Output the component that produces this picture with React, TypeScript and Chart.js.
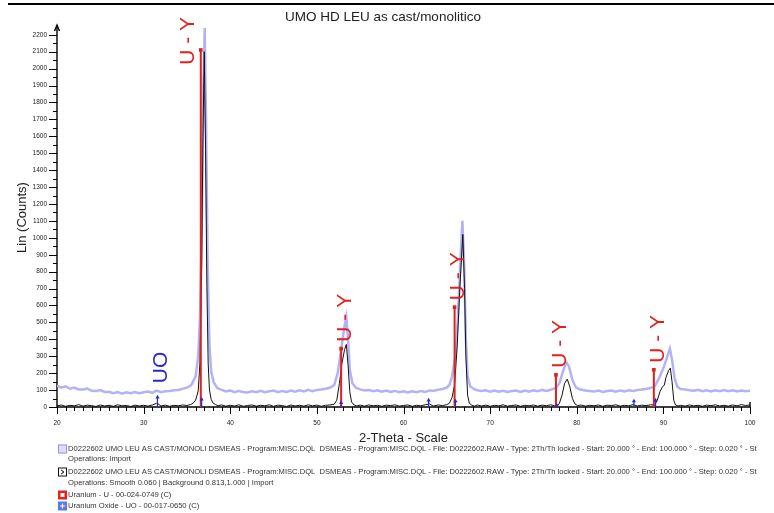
import React, { useEffect, useRef } from "react";
import { Chart, registerables } from "chart.js";

Chart.register(...registerables);

// ---------- DATA ----------
const chartTitle = "UMO HD LEU as cast/monolitico";
const xAxisTitle = "2-Theta - Scale";
const yAxisTitle = "Lin (Counts)";

const xTickLabels = [20, 30, 40, 50, 60, 70, 80, 90, 100];
const yTickLabels = [0, 100, 200, 300, 400, 500, 600, 700, 800, 900, 1000, 1100, 1200, 1300, 1400, 1500, 1600, 1700, 1800, 1900, 2000, 2100, 2200];
const xMinorStep = 1;
const yMinorStep = 50;
const xMin = 20;
const xMax = 100;
const yMin = 0;
const yMax = 2240;

// raw scan (light blue)
const rawTheta = [
  20.0, 20.5, 21.0, 21.5, 22.0, 22.5, 23.0, 23.5, 24.0, 24.5, 25.0, 25.5, 26.0, 26.5, 27.0, 27.5, 28.0, 28.5, 29.0, 29.5,
  30.0, 30.5, 31.0, 31.5, 32.0, 32.5, 33.0, 33.5, 34.0, 34.5, 35.0, 35.5, 36.0, 36.3, 36.5, 36.7, 36.9, 37.05, 37.2, 37.4,
  37.6, 37.8, 38.1, 38.5, 39.0, 39.5, 40.0, 40.5, 41.0, 41.5, 42.0, 42.5, 43.0, 43.5, 44.0, 44.5, 45.0, 45.5, 46.0, 46.5,
  47.0, 47.5, 48.0, 48.5, 49.0, 49.5, 50.0, 50.5, 51.0, 51.5, 52.0, 52.4, 52.8, 53.2, 53.4, 53.6, 53.8, 54.1, 54.5, 55.0,
  55.5, 56.0, 56.5, 57.0, 57.5, 58.0, 58.5, 59.0, 59.5, 60.0, 60.5, 61.0, 61.5, 62.0, 62.5, 63.0, 63.5, 64.0, 64.5, 65.0,
  65.3, 65.6, 66.0, 66.3, 66.6, 66.8, 67.0, 67.2, 67.4, 67.7, 68.2, 68.5, 69.0, 69.5, 70.0, 70.5, 71.0, 71.5, 72.0, 72.5,
  73.0, 73.5, 74.0, 74.5, 75.0, 75.5, 76.0, 76.5, 77.0, 77.6, 78.0, 78.4, 78.8, 79.1, 79.5, 79.9, 80.4, 81.0, 81.5, 82.0,
  82.5, 83.0, 83.5, 84.0, 84.5, 85.0, 85.5, 86.0, 86.5, 87.0, 87.5, 88.0, 88.5, 89.0, 89.5, 90.0, 90.4, 90.75, 91.0, 91.3,
  91.6, 92.0, 92.5, 93.0, 93.5, 94.0, 94.5, 95.0, 95.5, 96.0, 96.5, 97.0, 97.5, 98.0, 98.5, 99.0, 99.5, 100.0,
];
const rawCounts = [
  126, 114, 122, 108, 115, 104, 103, 109, 96, 94, 100, 89, 90, 82, 89, 79, 87, 81, 89, 81,
  87, 92, 84, 97, 87, 93, 94, 99, 100, 107, 114, 130, 180, 300, 520, 1000, 1900, 2240, 1700, 820,
  360, 210, 145, 112, 101, 92, 98, 87, 95, 89, 86, 93, 88, 96, 87, 93, 97, 87, 95, 89,
  97, 91, 99, 92, 101, 94, 101, 104, 108, 114, 130, 200, 340, 480, 530, 400, 220, 140, 114, 104,
  97, 101, 93, 99, 91, 97, 89, 95, 87, 93, 86, 93, 87, 95, 89, 98, 96, 102, 106, 115,
  130, 180, 300, 550, 900, 1100, 850, 400, 180, 122, 104, 99, 94, 99, 91, 97, 90, 96, 89, 95,
  97, 89, 97, 91, 99, 93, 101, 95, 102, 112, 140, 210, 265, 240, 160, 116, 103, 97, 94, 91,
  97, 89, 95, 97, 91, 98, 92, 99, 94, 100, 104, 106, 112, 122, 170, 230, 290, 345, 280, 170,
  120, 106, 104, 99, 96, 101, 93, 99, 92, 99, 93, 100, 93, 99, 92, 98, 93, 96,
];

// smoothed, background-subtracted scan (black)
const smoothTheta = [
  20.0, 20.5, 21.0, 21.5, 22.0, 22.5, 23.0, 23.5, 24.0, 24.5, 25.0, 25.5, 26.0, 26.5, 27.0, 27.5, 28.0, 28.5, 29.0, 29.5,
  30.0, 30.5, 31.0, 31.5, 31.8, 32.0, 32.5, 33.0, 33.5, 34.0, 34.5, 35.0, 35.4, 35.7, 36.0, 36.3, 36.5, 36.7, 36.85, 37.0,
  37.15, 37.3, 37.45, 37.6, 37.8, 38.0, 38.3, 38.6, 39.0, 39.5, 40.0, 40.5, 41.0, 41.5, 42.0, 42.5, 43.0, 43.5, 44.0, 44.5,
  45.0, 45.5, 46.0, 46.5, 47.0, 47.5, 48.0, 48.5, 49.0, 49.5, 50.0, 50.5, 51.0, 51.5, 52.0, 52.3, 52.6, 52.9, 53.2, 53.4,
  53.6, 53.8, 54.0, 54.3, 54.6, 55.0, 55.5, 56.0, 56.5, 57.0, 57.5, 58.0, 58.5, 59.0, 59.5, 60.0, 60.5, 61.0, 61.5, 62.0,
  62.5, 63.0, 63.3, 63.5, 64.0, 64.5, 65.0, 65.3, 65.6, 65.9, 66.2, 66.5, 66.85, 67.05, 67.2, 67.4, 67.6, 67.9, 68.2, 68.5,
  69.0, 69.5, 70.0, 70.5, 71.0, 71.5, 72.0, 72.5, 73.0, 73.5, 74.0, 74.5, 75.0, 75.5, 76.0, 76.5, 77.0, 77.5, 77.8, 78.0,
  78.3, 78.6, 78.9, 79.2, 79.5, 79.8, 80.1, 80.5, 81.0, 81.5, 82.0, 82.5, 83.0, 83.5, 84.0, 84.5, 85.0, 85.5, 86.0, 86.5,
  87.0, 87.5, 88.0, 88.5, 89.0, 89.3, 89.6, 89.9, 90.1, 90.3, 90.6, 90.8, 91.0, 91.2, 91.4, 91.7, 92.0, 92.5, 93.0, 93.5,
  94.0, 94.5, 95.0, 95.5, 96.0, 96.5, 97.0, 97.5, 98.0, 98.5, 99.0, 99.5, 100.0,
];
const smoothCounts = [
  6, 12, 4, 10, 7, 14, 5, 11, 8, 3, 12, 6, 10, 4, 13, 7, 9, 3, 11, 6,
  10, 5, 12, 22, 14, 6, 11, 4, 10, 7, 12, 9, 14, 22, 40, 95, 260, 820, 1600, 2100,
  1520, 720, 260, 100, 45, 24, 14, 8, 12, 5, 10, 6, 13, 4, 9, 12, 5, 10, 7, 13,
  4, 11, 8, 3, 12, 6, 10, 5, 13, 7, 11, 4, 10, 12, 16, 40, 140, 260, 340, 370,
  250, 90, 30, 12, 6, 11, 5, 12, 7, 10, 4, 11, 8, 13, 5, 9, 12, 4, 10, 7,
  13, 18, 9, 6, 12, 8, 14, 22, 55, 130, 360, 700, 1020, 700, 300, 70, 22, 10, 5, 12,
  6, 11, 4, 10, 7, 13, 5, 9, 12, 4, 10, 7, 12, 5, 11, 8, 13, 6, 10, 22,
  70, 140, 165, 120, 50, 18, 8, 12, 5, 10, 7, 12, 4, 11, 8, 13, 5, 10, 7, 14,
  6, 11, 8, 13, 12, 40, 90, 120, 128, 175, 215, 230, 150, 40, 12, 6, 10, 5, 12, 7,
  10, 4, 11, 8, 13, 6, 10, 5, 12, 7, 14, 9, 12,
];

// reference patterns (sticks)
const uTheta = [36.6, 52.8, 65.9, 77.6, 88.9];
const uCounts = [2110, 345, 590, 190, 220];
const uLabels = ["U - Y", "U - Y", "U - Y", "U - Y", "U - Y"];

const uoTheta = [31.6, 36.7, 52.8, 62.9, 66.0, 77.7, 86.6, 89.1];
const uoCounts = [58, 45, 25, 40, 35, 10, 35, 40];
const uoLabels = ["UO", "", "", "", "", "", "", ""];

const legendRows = [
  { icon: "raw", text: "D0222602 UMO LEU AS CAST/MONOLI DSMEAS - Program:MISC.DQL  DSMEAS - Program:MISC.DQL - File: D0222602.RAW - Type: 2Th/Th locked - Start: 20.000 ° - End: 100.000 ° - Step: 0.020 ° - St" },
  { icon: "", text: "Operations: Import" },
  { icon: "smooth", text: "D0222602 UMO LEU AS CAST/MONOLI DSMEAS - Program:MISC.DQL  DSMEAS - Program:MISC.DQL - File: D0222602.RAW - Type: 2Th/Th locked - Start: 20.000 ° - End: 100.000 ° - Step: 0.020 ° - St" },
  { icon: "", text: "Operations: Smooth 0.060 | Background 0.813,1.000 | Import" },
  { icon: "u", text: "Uranium - U - 00-024-0749 (C)" },
  { icon: "uo", text: "Uranium Oxide - UO - 00-017-0650 (C)" },
];

// ---------- STYLE ----------
const RAW_COLOR = "rgb(178,178,246)";
const SMOOTH_COLOR = "#111111";
const U_COLOR = "rgb(226,32,28)";
const UO_COLOR = "rgb(40,40,205)";
const FONT = "'Liberation Sans', Arial, Helvetica, sans-serif";

function toXY(xs: number[], ys: number[]) {
  return xs.map((x, i) => ({ x, y: ys[i] }));
}
function toSticks(xs: number[], ys: number[]) {
  const out: { x: number; y: number | null }[] = [];
  xs.forEach((x, i) => {
    out.push({ x, y: 0 });
    out.push({ x, y: ys[i] });
    out.push({ x, y: null });
  });
  return out;
}

const decorPlugin = {
  id: "decor",
  beforeDatasetsDraw(chart: any) {
    const { ctx, chartArea, scales } = chart;
    const xs = scales.x;
    const ys = scales.y;
    ctx.save();
    // top frame line
    ctx.fillStyle = "#000";
    ctx.fillRect(8, 3, 766, 2);
    // axes
    ctx.strokeStyle = "#000";
    ctx.lineWidth = 1.4;
    ctx.beginPath();
    ctx.moveTo(chartArea.left, chartArea.bottom);
    ctx.lineTo(chartArea.left, chartArea.top - 2);
    ctx.moveTo(chartArea.left, chartArea.bottom);
    ctx.lineTo(chartArea.right, chartArea.bottom);
    ctx.stroke();
    // arrow on y axis
    ctx.beginPath();
    ctx.moveTo(chartArea.left - 2.5, chartArea.top + 3);
    ctx.lineTo(chartArea.left, chartArea.top - 3);
    ctx.lineTo(chartArea.left + 2.5, chartArea.top + 3);
    ctx.stroke();
    // right end upturn of x axis
    ctx.beginPath();
    ctx.moveTo(chartArea.right, chartArea.bottom);
    ctx.lineTo(chartArea.right, chartArea.bottom - 5);
    ctx.stroke();

    ctx.lineWidth = 1;
    // y ticks
    for (let v = yMin; v <= yTickLabels[yTickLabels.length - 1]; v += yMinorStep) {
      const py = Math.round(ys.getPixelForValue(v)) + 0.5;
      const major = yTickLabels.includes(v);
      ctx.beginPath();
      ctx.moveTo(chartArea.left - (major ? 8 : 4), py);
      ctx.lineTo(chartArea.left, py);
      ctx.stroke();
    }
    // x ticks
    for (let v = xMin; v <= xMax; v += xMinorStep) {
      const px = Math.round(xs.getPixelForValue(v)) + 0.5;
      const major = xTickLabels.includes(v);
      ctx.beginPath();
      ctx.moveTo(px, chartArea.bottom);
      ctx.lineTo(px, chartArea.bottom + (major ? 7 : 4));
      ctx.stroke();
    }
    // tick labels
    ctx.fillStyle = "#222";
    ctx.font = `6.5px ${FONT}`;
    ctx.textAlign = "right";
    ctx.textBaseline = "middle";
    yTickLabels.forEach((v) => {
      ctx.fillText(String(v), chartArea.left - 10, ys.getPixelForValue(v));
    });
    ctx.textAlign = "center";
    ctx.textBaseline = "top";
    xTickLabels.forEach((v) => {
      ctx.fillText(String(v), xs.getPixelForValue(v), chartArea.bottom + 13);
    });
    ctx.restore();
  },
  afterDatasetsDraw(chart: any) {
    const { ctx, chartArea, scales } = chart;
    const xs = scales.x;
    const ys = scales.y;
    ctx.save();
    // title
    ctx.fillStyle = "#222";
    ctx.font = `13.5px ${FONT}`;
    ctx.textAlign = "center";
    ctx.textBaseline = "middle";
    ctx.fillText(chartTitle, 383, 17);
    // x title
    ctx.font = `13px ${FONT}`;
    ctx.fillText(xAxisTitle, (chartArea.left + chartArea.right) / 2, chartArea.bottom + 31);
    // y title
    ctx.save();
    ctx.translate(22, (chartArea.top + chartArea.bottom) / 2);
    ctx.rotate(-Math.PI / 2);
    ctx.fillText(yAxisTitle, 0, 0);
    ctx.restore();

    // peak labels
    const drawLabels = (thetas: number[], counts: number[], labels: string[], color: string, gap: number, size: number) => {
      ctx.font = `${size}px ${FONT}`;
      ctx.fillStyle = color;
      ctx.textAlign = "left";
      ctx.textBaseline = "middle";
      thetas.forEach((t, i) => {
        const label = labels[i];
        if (!label) return;
        const px = xs.getPixelForValue(t);
        const py = ys.getPixelForValue(counts[i]);
        const len = ctx.measureText(label).width;
        let cx = px + 3;
        let bottom = py - gap;
        if (bottom - len < 14) {
          cx = px - 14;
          bottom = 17 + len;
        }
        ctx.save();
        ctx.translate(cx, bottom);
        ctx.rotate(-Math.PI / 2);
        ctx.fillText(label, 0, 1);
        ctx.restore();
      });
    };
    drawLabels(uTheta, uCounts, uLabels, U_COLOR, 7, 21);
    drawLabels(uoTheta, uoCounts, uoLabels, UO_COLOR, 14, 21);

    // legend
    const lx = 58;
    const rowsY = [449, 459, 472, 483, 495, 506];
    ctx.font = `7.6px ${FONT}`;
    ctx.textAlign = "left";
    ctx.textBaseline = "middle";
    legendRows.forEach((row, i) => {
      const y = rowsY[i];
      const bx = lx;
      const by = y - 4.5;
      if (row.icon === "raw") {
        ctx.fillStyle = "rgb(222,222,252)";
        ctx.fillRect(bx, by, 9, 9);
        ctx.strokeStyle = "rgb(150,150,230)";
        ctx.lineWidth = 1;
        ctx.strokeRect(bx + 0.5, by + 0.5, 8, 8);
      } else if (row.icon === "smooth") {
        ctx.fillStyle = "#fff";
        ctx.fillRect(bx, by, 9, 9);
        ctx.strokeStyle = "#111";
        ctx.lineWidth = 1;
        ctx.strokeRect(bx + 0.5, by + 0.5, 8, 8);
        ctx.beginPath();
        ctx.moveTo(bx + 3, by + 2.5);
        ctx.lineTo(bx + 6, by + 4.5);
        ctx.lineTo(bx + 3, by + 6.5);
        ctx.stroke();
      } else if (row.icon === "u") {
        ctx.fillStyle = U_COLOR;
        ctx.fillRect(bx, by, 9, 9);
        ctx.fillStyle = "#fff";
        ctx.fillRect(bx + 2.5, by + 2.5, 4, 4);
      } else if (row.icon === "uo") {
        ctx.fillStyle = "rgb(90,120,230)";
        ctx.fillRect(bx, by, 9, 9);
        ctx.strokeStyle = "#fff";
        ctx.lineWidth = 1;
        ctx.beginPath();
        ctx.moveTo(bx + 4.5, by + 2);
        ctx.lineTo(bx + 4.5, by + 7);
        ctx.moveTo(bx + 2, by + 4.5);
        ctx.lineTo(bx + 7, by + 4.5);
        ctx.stroke();
      }
      ctx.fillStyle = "#333";
      ctx.fillText(row.text, lx + 10, y);
    });
    ctx.restore();
  },
};

export default function App() {
  const ref = useRef<HTMLCanvasElement>(null);
  useEffect(() => {
    document.body.style.margin = "0";
    const canvas = ref.current;
    if (!canvas) return;
    const chart = new Chart(canvas, {
      type: "line",
      data: {
        datasets: [
          {
            label: "U",
            data: toSticks(uTheta, uCounts) as any,
            borderColor: U_COLOR,
            backgroundColor: U_COLOR,
            borderWidth: 2,
            spanGaps: false,
            pointStyle: "rect",
            pointRadius: (c: any) => (c.raw && c.raw.y > 0 ? 2.6 : 0),
            pointBorderWidth: 0,
            order: 2,
          },
          {
            label: "UO",
            data: toSticks(uoTheta, uoCounts) as any,
            borderColor: UO_COLOR,
            backgroundColor: UO_COLOR,
            borderWidth: 1.2,
            spanGaps: false,
            pointStyle: "triangle",
            pointRadius: (c: any) => (c.raw && c.raw.y > 0 ? 2.4 : 0),
            pointBorderWidth: 0,
            order: 1,
          },
          {
            label: "smooth",
            data: toXY(smoothTheta, smoothCounts),
            borderColor: SMOOTH_COLOR,
            borderWidth: 1,
            pointRadius: 0,
            tension: 0,
            order: 3,
          },
          {
            label: "raw",
            data: toXY(rawTheta, rawCounts),
            borderColor: RAW_COLOR,
            borderWidth: 2.5,
            pointRadius: 0,
            tension: 0,
            order: 4,
          },
        ],
      },
      options: {
        responsive: false,
        animation: false,
        events: [],
        layout: { padding: { left: 57, right: 24, top: 28, bottom: 106 } },
        scales: {
          x: { type: "linear", min: xMin, max: xMax, display: false },
          y: { type: "linear", min: yMin, max: yMax, display: false },
        },
        plugins: {
          legend: { display: false },
          tooltip: { enabled: false },
          title: { display: false },
        },
      },
      plugins: [decorPlugin],
    });
    return () => chart.destroy();
  }, []);
  return (
    <div style={{ width: 774, height: 513, background: "#fff" }}>
      <canvas ref={ref} width={774} height={513} style={{ display: "block" }} />
    </div>
  );
}
